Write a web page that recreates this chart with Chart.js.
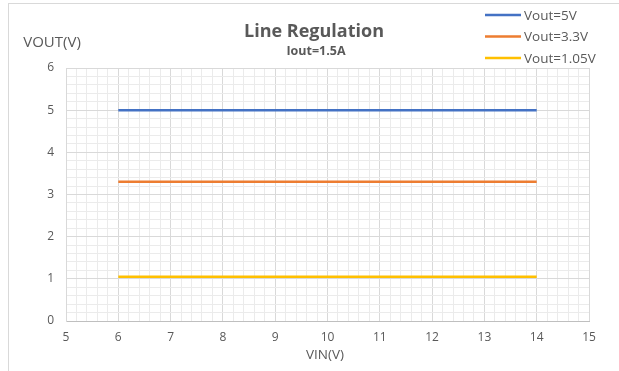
<!DOCTYPE html>
<html lang="en">
<head>
<meta charset="UTF-8">
<title>Line Regulation</title>
<script src="https://cdn.jsdelivr.net/npm/chart.js"></script>
<style>
  html, body { margin: 0; padding: 0; background: #fff; }
  #wrap { position: relative; width: 619px; height: 371px; }
</style>
</head>
<body>
<div id="wrap"><canvas id="grafico" width="619" height="371"></canvas></div>
<script>
// dados
const vin = [6, 7, 8, 9, 10, 11, 12, 13, 14];
const vout5 = [5, 5, 5, 5, 5, 5, 5, 5, 5];
const vout33 = [3.3, 3.3, 3.3, 3.3, 3.3, 3.3, 3.3, 3.3, 3.3];
const vout105 = [1.05, 1.05, 1.05, 1.05, 1.05, 1.05, 1.05, 1.05, 1.05];
const nomes = ['Vout=5V', 'Vout=3.3V', 'Vout=1.05V'];
const cores = ['#4472C4', '#ED7D31', '#FFC000'];

const fonte = "'Open Sans', 'Noto Sans', sans-serif";
const cinza = '#595959';

function pontos(ys) {
  return vin.map((x, i) => ({ x: x, y: ys[i] }));
}

function inteiro(v) {
  return Math.abs(v - Math.round(v)) < 1e-6;
}

// textos, moldura e legenda desenhados a mao
const extras = {
  id: 'extras',
  beforeDraw(chart) {
    const c = chart.ctx;
    c.save();
    c.fillStyle = '#fff';
    c.fillRect(0, 0, chart.width, chart.height);
    c.strokeStyle = '#d9d9d9';
    c.lineWidth = 1;
    c.strokeRect(8.5, 3.5, 620, 380);
    c.restore();
  },
  afterDraw(chart) {
    const c = chart.ctx;
    c.save();
    c.fillStyle = cinza;
    c.textAlign = 'center';
    c.textBaseline = 'middle';
    c.font = 'bold 18px ' + fonte;
    c.fillText('Line Regulation', 314, 32);
    c.font = 'bold 12.5px ' + fonte;
    c.fillText('Iout=1.5A', 316, 51);
    c.font = '15px ' + fonte;
    c.fillText('VOUT(V)', 52, 43);
    c.font = '13.5px ' + fonte;
    c.fillText('VIN(V)', 325, 355);

    // legenda
    c.textAlign = 'left';
    c.font = '13.5px ' + fonte;
    nomes.forEach((n, i) => {
      const y = 15 + i * 21.5;
      c.strokeStyle = cores[i];
      c.lineWidth = 2.5;
      c.beginPath();
      c.moveTo(485, y);
      c.lineTo(521, y);
      c.stroke();
      c.fillText(n, 524, y + 1);
    });
    c.restore();
  }
};

const grade = function (ctx) {
  return ctx.tick && inteiro(ctx.tick.value) ? '#d9d9d9' : '#ebebeb';
};

new Chart(document.getElementById('grafico'), {
  type: 'scatter',
  data: {
    datasets: [
      { label: nomes[0], data: pontos(vout5), borderColor: cores[0] },
      { label: nomes[1], data: pontos(vout33), borderColor: cores[1] },
      { label: nomes[2], data: pontos(vout105), borderColor: cores[2] }
    ].map(d => Object.assign(d, {
      showLine: true, pointRadius: 0, borderWidth: 2.5, fill: false, tension: 0
    }))
  },
  options: {
    responsive: false,
    animation: false,
    layout: { padding: { top: 68, right: 30, bottom: 20, left: 0 } },
    plugins: { legend: { display: false }, title: { display: false }, tooltip: { enabled: false } },
    scales: {
      x: {
        type: 'linear', min: 5, max: 15,
        afterFit(s) { s.height = 30; },
        border: { color: '#bfbfbf' },
        grid: { color: grade, drawTicks: false },
        ticks: {
          stepSize: 0.2, autoSkip: false, maxRotation: 0, padding: 9,
          color: cinza, font: { family: fonte, size: 12 },
          callback: v => inteiro(v) ? String(Math.round(v)) : ''
        }
      },
      y: {
        type: 'linear', min: 0, max: 6,
        afterFit(s) { s.width = 66; },
        border: { color: '#d9d9d9' },
        grid: { color: grade, drawTicks: false },
        ticks: {
          stepSize: 0.2, autoSkip: false, padding: 12,
          color: cinza, font: { family: fonte, size: 12 },
          callback: v => inteiro(v) ? String(Math.round(v)) : ''
        }
      }
    }
  },
  plugins: [extras]
});
</script>
</body>
</html>
